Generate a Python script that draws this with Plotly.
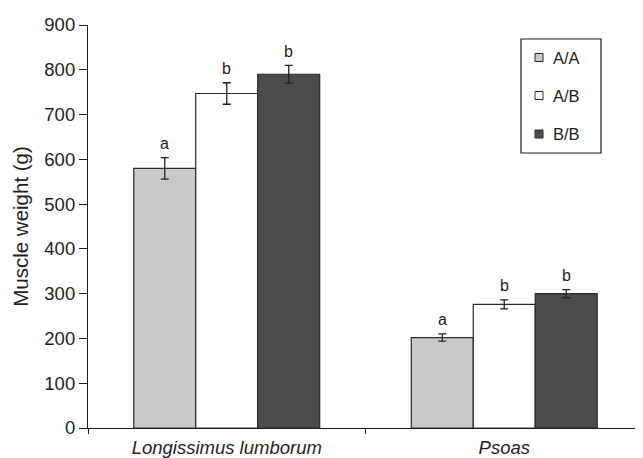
import plotly.graph_objects as go

categories = ["Longissimus lumborum", "Psoas"]
cat_labels = ["<i>Longissimus lumborum</i>", "<i>Psoas</i>"]
genotypes = ["A/A", "A/B", "B/B"]
means = {
    "A/A": [580, 202],
    "A/B": [747, 276],
    "B/B": [790, 300],
}
errors = {
    "A/A": [24, 8],
    "A/B": [24, 10],
    "B/B": [20, 9],
}
letters = {
    "A/A": ["a", "a"],
    "A/B": ["b", "b"],
    "B/B": ["b", "b"],
}
colors = {"A/A": "#c8c9cb", "A/B": "#ffffff", "B/B": "#4a4c4e"}
y_ticks = [0, 100, 200, 300, 400, 500, 600, 700, 800, 900]

# page has a default 8px body margin; size the figure to fit the window
OFF = 8
W, H = 643 - OFF, 458 - OFF
ML, MR, MT, MB = 88 - OFF, 0, 25 - OFF, 30
BARGAP = 0.33
FONT = "Liberation Sans, Arial, sans-serif"
INK = "#231f20"
EDGE = "#2a2a2a"

fig = go.Figure()
for g in genotypes:
    fig.add_trace(go.Bar(
        x=categories, y=means[g], name=g, showlegend=False,
        marker=dict(color=colors[g], line=dict(color=EDGE, width=1.2)),
        error_y=dict(type="data", array=errors[g], color=INK, thickness=1.3, width=4),
    ))

# significance letters above error bars
plot_w = W - ML - MR
plot_h = H - MT - MB
cat_w = plot_w / len(categories)
bar_w = cat_w * (1 - BARGAP) / len(genotypes)
for i, g in enumerate(genotypes):
    shift = (i - (len(genotypes) - 1) / 2) * bar_w
    for c, cat in enumerate(categories):
        fig.add_annotation(
            x=cat, y=means[g][c] + errors[g][c], text=letters[g][c],
            showarrow=False, xshift=shift, yshift=14, yanchor="middle",
            font=dict(size=16, color=INK, family=FONT),
        )

# boxed legend (drawn in paper space; page-pixel helpers)
def px_x(p):
    return (p - OFF - ML) / plot_w

def px_y(p):
    return (H - MB - (p - OFF)) / plot_h

fig.add_shape(type="rect", xref="paper", yref="paper",
              x0=px_x(521), x1=px_x(601), y0=px_y(153), y1=px_y(39),
              line=dict(color=INK, width=1.2), fillcolor="white", layer="above")
legend_rows = [57.5, 95.5, 134]
for g, ry in zip(genotypes, legend_rows):
    fig.add_shape(type="rect", xref="paper", yref="paper",
                  x0=px_x(535), x1=px_x(543), y0=px_y(ry + 4), y1=px_y(ry - 4),
                  line=dict(color=EDGE, width=1), fillcolor=colors[g], layer="above")
    fig.add_annotation(x=px_x(551), y=px_y(ry), xref="paper", yref="paper",
                       text=g, showarrow=False, xanchor="left", yanchor="middle",
                       font=dict(size=16.5, family=FONT, color=INK))

fig.update_layout(
    width=W, height=H,
    margin=dict(l=ML, r=MR, t=MT, b=MB, pad=0),
    paper_bgcolor="white", plot_bgcolor="white",
    barmode="group", bargap=BARGAP, bargroupgap=0,
    font=dict(family=FONT, color=INK, size=18.5),
    showlegend=False,
    xaxis=dict(
        tickmode="array", tickvals=categories, ticktext=cat_labels,
        tickson="boundaries", ticks="outside", ticklen=5, tickcolor=INK,
        ticklabelstandoff=3,
        showline=True, linecolor=INK, linewidth=1.2, showgrid=False,
        tickfont=dict(size=18.5, family=FONT, color=INK),
    ),
    yaxis=dict(
        range=[0, 900], tickvals=y_ticks, ticks="outside", ticklen=8,
        tickcolor=INK, showline=True, linecolor=INK, linewidth=1.2,
        showgrid=False, zeroline=False,
        tickfont=dict(size=18.5, family=FONT, color=INK),
        title=dict(text="Muscle weight (g)", standoff=10,
                   font=dict(size=20.5, family=FONT, color=INK)),
    ),
)

fig.write_html("out.html")
